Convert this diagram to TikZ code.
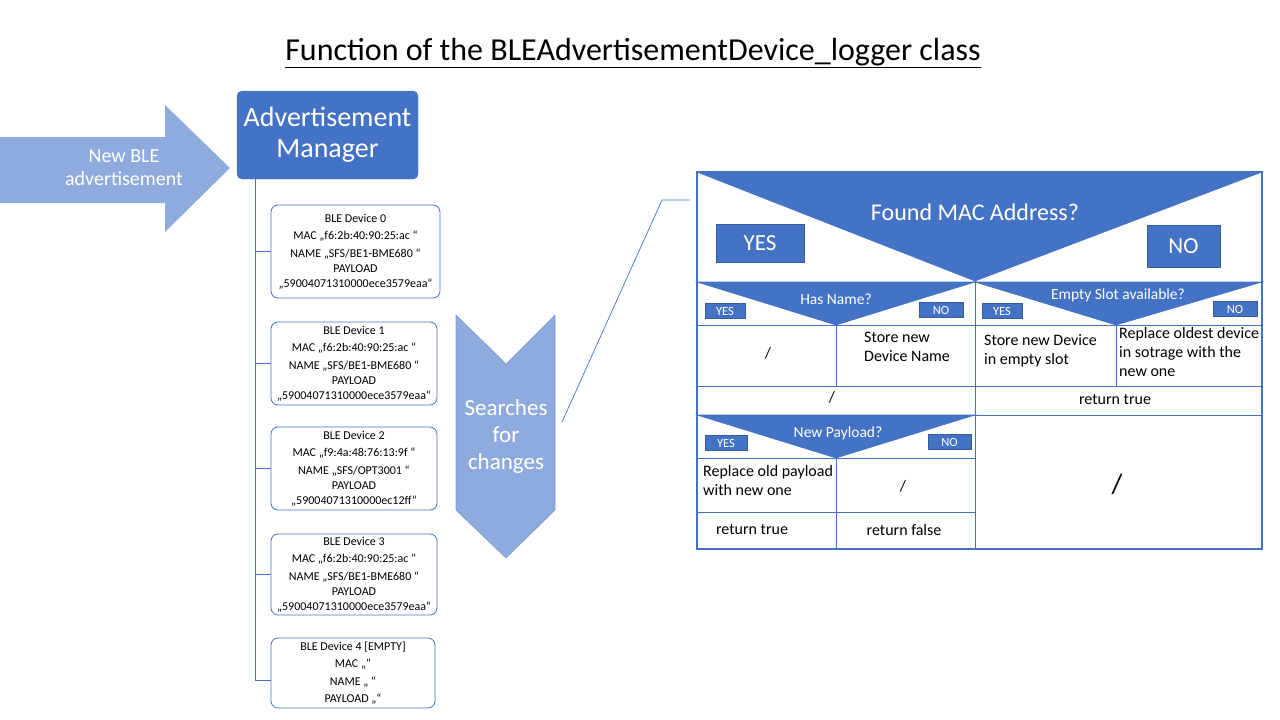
\documentclass[tikz,border=0pt]{standalone}
\usepackage{fontspec}
\setmainfont{Carlito}
\usetikzlibrary{positioning}

\definecolor{ofblue}{HTML}{4472C4}
\definecolor{oflight}{HTML}{8FAADC}

\begin{document}
\begin{tikzpicture}[
    x=1pt, y=-1pt,
    % Style definitions
    title/.style={font=\fontsize{32}{36}\selectfont, text=black},
    bigarrow/.style={fill=oflight, draw=none},
    whitetext/.style={text=white, align=center},
    manager/.style={rectangle, rounded corners=5pt, fill=ofblue, draw=ofblue,
                    minimum width=181pt, minimum height=88pt, text=white, align=center,
                    font=\fontsize{28}{31}\selectfont, inner sep=0pt},
    device/.style={rectangle, rounded corners=7pt, draw=ofblue, fill=white, line width=0.8pt,
                   align=center, font=\fontsize{12}{17.5}\selectfont, inner sep=0pt},
    tree/.style={draw=ofblue, line width=0.9pt},
    grid/.style={draw=ofblue, line width=0.8pt},
    decide/.style={fill=ofblue, draw=ofblue, line width=0.6pt},
    bigbtn/.style={rectangle, fill=ofblue, draw=ofblue!80!black, line width=0.5pt, text=white,
                   font=\fontsize{23}{26}\selectfont, inner sep=0pt},
    smallbtn/.style={rectangle, fill=ofblue, draw=ofblue!80!black, line width=0.5pt, text=white,
                     font=\fontsize{12.5}{13}\selectfont, inner sep=0pt, minimum height=15pt},
    cell/.style={font=\fontsize{16}{19}\selectfont, align=left, inner sep=0pt, anchor=north west},
    celltext/.style={font=\fontsize{16}{19}\selectfont, inner sep=0pt},
]
\useasboundingbox (0,0) rectangle (1280,720);

% Title
\node[title] (title) at (633,53) {\underline{Function of the BLEAdvertisementDevice\_logger class}};

% Incoming advertisement arrow
\fill[bigarrow] (0,137) -- (165,137) -- (165,105) -- (230,168) -- (165,232) -- (165,203) -- (0,203) -- cycle;
\node[whitetext, font=\fontsize{20}{23}\selectfont] (newadv) at (124,168) {New BLE\\advertisement};

% Advertisement manager
\node[manager] (manager) at (327.5,135) {Advertisement\\Manager};

% Device storage
\node[device, minimum width=169pt, minimum height=93pt] (dev0) at (355.5,251.5)
    {BLE Device 0\\MAC „f6:2b:40:90:25:ac “\\NAME „SFS/BE1-BME680 “\\[-2pt]PAYLOAD\\[-3pt]„59004071310000ece3579eaa“};
\node[device, minimum width=166pt, minimum height=83pt] (dev1) at (354,363.5)
    {BLE Device 1\\MAC „f6:2b:40:90:25:ac “\\NAME „SFS/BE1-BME680 “\\[-2pt]PAYLOAD\\[-3pt]„59004071310000ece3579eaa“};
\node[device, minimum width=166pt, minimum height=83pt] (dev2) at (354,468.5)
    {BLE Device 2\\MAC „f9:4a:48:76:13:9f “\\NAME „SFS/OPT3001 “\\[-2pt]PAYLOAD\\[-3pt]„59004071310000ec12ff“};
\node[device, minimum width=166pt, minimum height=81pt] (dev3) at (354,574.5)
    {BLE Device 3\\MAC „f6:2b:40:90:25:ac “\\NAME „SFS/BE1-BME680 “\\[-2pt]PAYLOAD\\[-3pt]„59004071310000ece3579eaa“};
\node[device, minimum width=164pt, minimum height=70pt] (dev4) at (353,673)
    {BLE Device 4 [EMPTY]\\MAC „“\\NAME „ “\\PAYLOAD „“};

% Tree connectors
\coordinate (trunk) at (255,179);
\coordinate (lastleaf) at ([yshift=-7pt]dev4.west);
\draw[tree] (trunk) -- (lastleaf -| trunk) -- (lastleaf);
\foreach \d in {dev0,dev1,dev2,dev3}
    \draw[tree] (\d.west) -- (\d.west -| trunk);

% Search chevron
\fill[oflight, draw=ofblue!70, line width=0.6pt] (456,315) -- (506,364) -- (555,315) -- (555,510) -- (506,558) -- (456,510) -- cycle;
\node[whitetext, font=\fontsize{23}{27}\selectfont] (search) at (506,436) {Searches\\for\\changes};

% Connector to decision table
\coordinate (zoomfrom) at (562,422);
\coordinate (zoomknee) at (662,200);
\coordinate (zoomto) at (690,200);
\draw[draw=ofblue, line width=0.7pt] (zoomfrom) -- (zoomknee) -- (zoomto);

% Decision table: triangles
\fill[decide] (697,172) -- (1262,172) -- (975,281) -- cycle;
\fill[decide] (697,282) -- (975,282) -- (836,325) -- cycle;
\fill[decide] (975,282) -- (1262,282) -- (1116,325) -- cycle;
\fill[decide] (697,415) -- (975,415) -- (836,458) -- cycle;

% Decision table: grid
\draw[grid] (697,282) -- (1262,282);
\draw[grid] (975,281) -- (975,549);
\draw[grid] (697,325) -- (1262,325);
\draw[grid] (836,325) -- (836,386);
\draw[grid] (1116,325) -- (1116,386);
\draw[grid] (697,386) -- (1262,386);
\draw[grid] (697,415) -- (1262,415);
\draw[grid] (697,458) -- (975,458);
\draw[grid] (836,458) -- (836,549);
\draw[grid] (697,512) -- (975,512);
\draw[draw=ofblue, line width=1.2pt] (697,172) rectangle (1262,549);

% Decision labels
\node[whitetext, font=\fontsize{24}{26}\selectfont] (foundmac) at (975,212) {Found MAC Address?};
\node[bigbtn, minimum width=88pt, minimum height=38pt] (yesmac) at (760,243) {YES};
\node[bigbtn, minimum width=73pt, minimum height=42pt] (nomac) at (1183.5,246) {NO};

\node[whitetext, font=\fontsize{15.5}{17}\selectfont] (hasname) at (836,299) {Has Name?};
\node[smallbtn, minimum width=40pt] (yesname) at (725,311) {YES};
\node[smallbtn, minimum width=44pt] (noname) at (941,310) {NO};

\node[whitetext, font=\fontsize{15.5}{17}\selectfont] (emptyslot) at (1118,295) {Empty Slot available?};
\node[smallbtn, minimum width=40pt] (yesslot) at (1002,311) {YES};
\node[smallbtn, minimum width=44pt] (noslot) at (1235,309) {NO};

\node[whitetext, font=\fontsize{15.5}{17}\selectfont] (newpayload) at (838,433) {New Payload?};
\node[smallbtn, minimum width=42pt] (yespay) at (726,443) {YES};
\node[smallbtn, minimum width=43pt] (nopay) at (949.5,442) {NO};

% Cell texts
\node[celltext] (nameskip) at (768,353) {/};
\node[cell] (storename) at (864,332) {Store new\\Device Name};
\node[cell] (storedev) at (984,334) {Store new Device\\in empty slot};
\node[cell] (replacedev) at (1119,327) {Replace oldest device\\in sotrage with the\\new one};
\node[celltext] (foundskip) at (832,397) {/};
\node[celltext] (rettrue1) at (1115,399) {return true};
\node[celltext, font=\fontsize{28}{30}\selectfont] (noslotskip) at (1117,484) {/};
\node[cell] (replacepay) at (703,465) {Replace old payload\\with new one};
\node[celltext] (payskip) at (903,486) {/};
\node[celltext] (rettrue2) at (752,529) {return true};
\node[celltext] (retfalse) at (904,530) {return false};

\end{tikzpicture}
\end{document}
